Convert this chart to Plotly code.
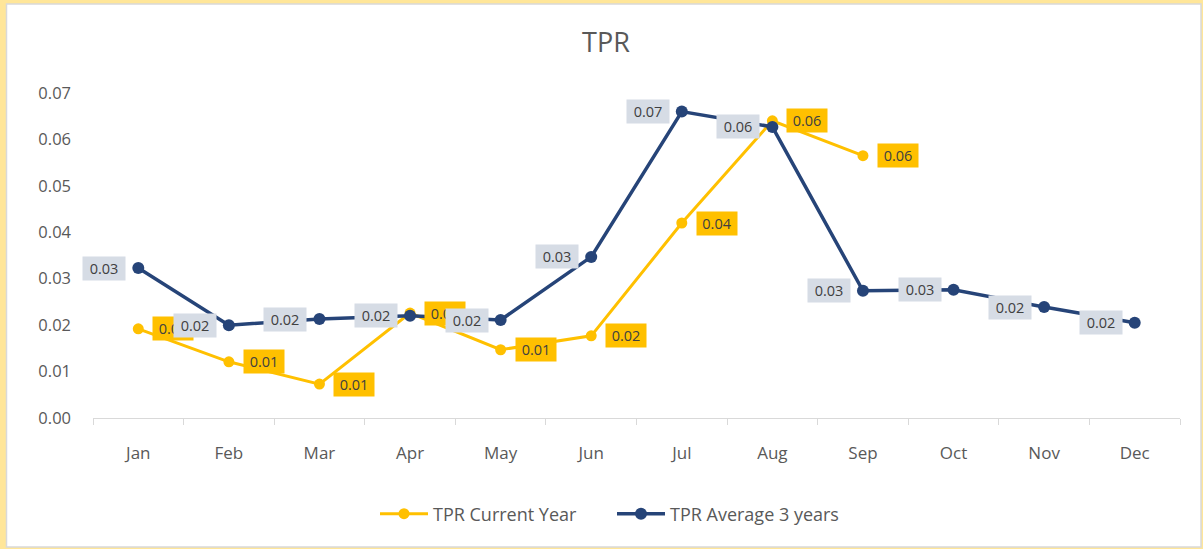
import plotly.graph_objects as go

months = ["Jan", "Feb", "Mar", "Apr", "May", "Jun", "Jul", "Aug", "Sep", "Oct", "Nov", "Dec"]
current_year = [0.0192, 0.0121, 0.0073, 0.0226, 0.0147, 0.0177, 0.0420, 0.0640, 0.0565]
avg_3_years = [0.0323, 0.0200, 0.0213, 0.0220, 0.0211, 0.0347, 0.0660, 0.0627, 0.0274, 0.0276, 0.0239, 0.0205]

YELLOW = "#FFC000"
NAVY = "#264478"
FONT = "Open Sans"
GRAY = "#595959"

W, H = 1203, 549
L, R, T, B = 93, 1180, 93, 418

def px(x):
    return (x - L) / (R - L)

def py(y):
    return (B - y) / (B - T)

fig = go.Figure()
fig.add_trace(go.Scatter(
    x=months[:len(current_year)], y=current_year, mode="lines+markers",
    name="TPR Current Year", line=dict(color=YELLOW, width=3),
    marker=dict(color=YELLOW, size=11)))
fig.add_trace(go.Scatter(
    x=months, y=avg_3_years, mode="lines+markers",
    name="TPR Average 3 years", line=dict(color=NAVY, width=3.5),
    marker=dict(color=NAVY, size=12)))

label_font = dict(family=FONT, size=14.5, color="#404040")
annotations = []
for m, v in zip(months, current_year):
    annotations.append(dict(x=m, y=v, xref="x", yref="y", text=f"{v:.2f}", showarrow=False,
                            xanchor="left", yanchor="middle", xshift=14, bgcolor=YELLOW,
                            width=40, height=23, borderpad=0, font=label_font))
for m, v in zip(months, avg_3_years):
    annotations.append(dict(x=m, y=v, xref="x", yref="y", text=f"{v:.2f}", showarrow=False,
                            xanchor="right", yanchor="middle", xshift=-12, bgcolor="#D6DCE5",
                            width=42, height=23, borderpad=0, font=label_font))

shapes = [
    dict(type="rect", xref="paper", yref="paper", x0=px(0), x1=px(W), y0=py(0), y1=py(H),
         fillcolor="#FFE699", line=dict(width=0), layer="below"),
    dict(type="rect", xref="paper", yref="paper", x0=px(6.5), x1=px(1201), y0=py(4), y1=py(547),
         fillcolor="white", line=dict(color="#D9D9D9", width=1.5), layer="below"),
]

fig.update_layout(
    width=W, height=H,
    margin=dict(l=L, r=W - R, t=T, b=H - B),
    paper_bgcolor="white", plot_bgcolor="rgba(0,0,0,0)",
    font=dict(family=FONT, color=GRAY, size=13),
    title=dict(text="TPR", x=606 / W, xanchor="center", y=1 - 43 / H, yanchor="middle",
               font=dict(family=FONT, size=27, color=GRAY)),
    showlegend=True,
    legend=dict(orientation="h", x=px(612), xanchor="center", y=py(514), yanchor="middle",
                font=dict(family=FONT, size=18, color=GRAY), bgcolor="rgba(0,0,0,0)",
                itemwidth=48, entrywidth=174),
    annotations=annotations,
    shapes=shapes,
)
fig.update_xaxes(type="category", categoryorder="array", categoryarray=months,
                 range=[-0.5, 11.5], showgrid=False, showline=True, linecolor="#D9D9D9", linewidth=1,
                 ticks="outside", tickson="boundaries", ticklen=6, tickcolor="#D9D9D9",
                 tickfont=dict(family=FONT, size=17, color=GRAY), ticklabelstandoff=20)
fig.update_yaxes(range=[0, 0.07], dtick=0.01, tickformat=".2f", showgrid=False, zeroline=False,
                 showline=False, tickfont=dict(family=FONT, size=16.5, color=GRAY), ticklabelstandoff=21)

fig.write_html("out.html", config={"displayModeBar": False},
               post_script="document.body.style.margin='0px';")
